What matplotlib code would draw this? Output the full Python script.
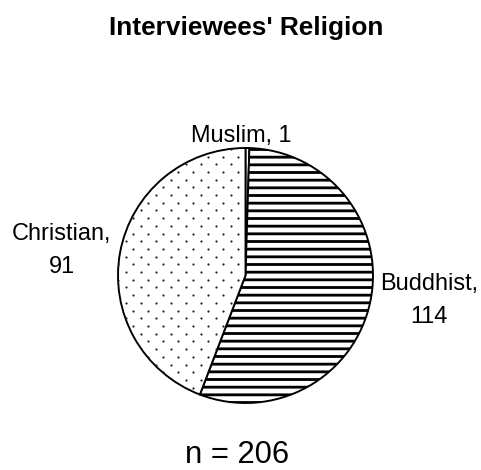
import numpy as np
import matplotlib.pyplot as plt

# survey counts
religions = ['Muslim', 'Buddhist', 'Christian']
counts = [1, 114, 91]
total = sum(counts)

DPI = 92
W, H = 481, 470
plt.rcParams['font.family'] = ['Liberation Sans', 'DejaVu Sans']
plt.rcParams['hatch.linewidth'] = 2.2

fig = plt.figure(figsize=(W / DPI, H / DPI), dpi=DPI)
ax = fig.add_axes([0, 0, 1, 1])

# pie centre / radius in pixel units (y measured from the bottom)
cx, cy, r = 245.5, H - 275.5, 127.5

wedges, _ = ax.pie(counts, startangle=90, counterclock=False,
                   center=(cx, cy), radius=r,
                   colors=['white'] * 3, hatch=['', '--', ''],
                   wedgeprops=dict(edgecolor='black', linewidth=1.5))

# dotted fill for the Christian slice
xs, ys = [], []
for j, y in enumerate(np.arange(cy - r, cy + r, 7.7)):
    off = 7.5 if j % 2 else 0
    for x in np.arange(cx - r + off, cx + r, 15):
        xs.append(x)
        ys.append(y)
dots = ax.scatter(xs, ys, s=3, color='#222222', linewidths=0, zorder=3)
dots.set_clip_path(wedges[2])

ax.set_xlim(0, W)
ax.set_ylim(0, H)
ax.set_aspect('equal')
ax.axis('off')

# labels (baseline given for the last line)
lab = 18.4
ax.text(241.5, H - 142, f'{religions[0]}, {counts[0]}', ha='center',
        va='baseline', fontsize=lab)
ax.text(429, H - 323, f'{religions[1]},\n{counts[1]}', ha='center',
        va='baseline', fontsize=lab, linespacing=1.65)
ax.text(61.5, H - 273, f'{religions[2]},\n{counts[2]}', ha='center',
        va='baseline', fontsize=lab, linespacing=1.65)

ax.text(246.5, H - 35, "Interviewees' Religion", ha='center', va='baseline',
        fontsize=20.5, fontweight='bold')
ax.text(237.5, H - 463, f'n = {total}', ha='center', va='baseline',
        fontsize=24.3)

fig.savefig('out.png', dpi=DPI)
